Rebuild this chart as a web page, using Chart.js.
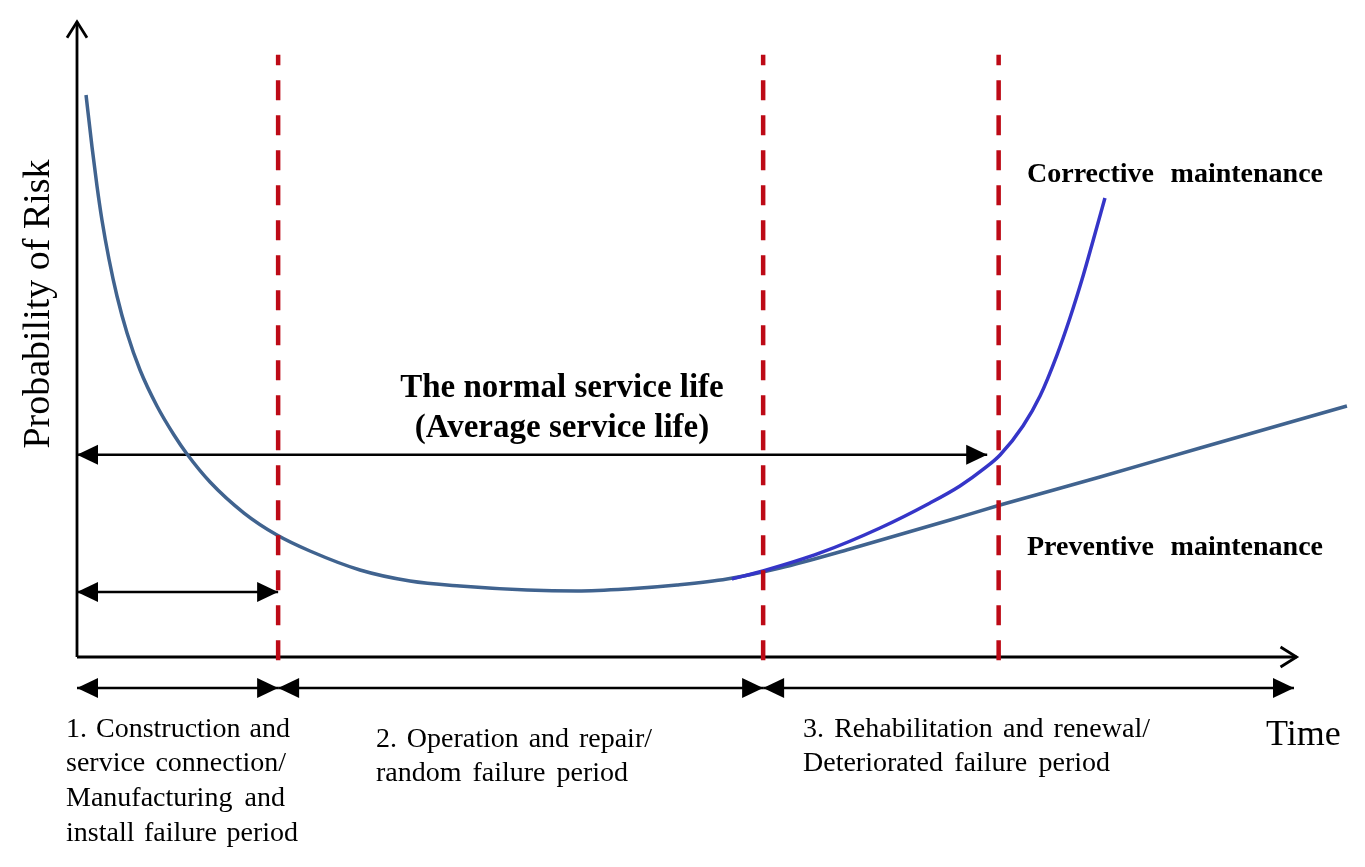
<!DOCTYPE html>
<html>
<head>
<meta charset="utf-8">
<script src="https://cdn.jsdelivr.net/npm/chart.js@4/dist/chart.umd.min.js"></script>
<style>
  html, body { margin: 0; padding: 0; background: #fff; }
  canvas { display: block; }
</style>
</head>
<body>
<canvas id="bathtub" width="1365" height="867"></canvas>
<script>
// time and risk are relative units (0-100)
const bathTime = [0.71, 1.18, 1.57, 1.96, 2.51, 3.14, 3.93, 4.95, 6.28, 7.62, 8.64, 10.45, 13.12, 15.71, 18.3, 22.23, 26.16, 30.09, 35.35, 39.28, 43.21, 47.13, 51.06, 55.22, 60.72, 68.58, 72.51, 80.36, 88.22, 99.76];
const bathRisk = [88.92, 80.7, 74.53, 69.15, 62.97, 57.12, 51.27, 45.41, 39.72, 35.13, 32.12, 27.69, 22.78, 19.3, 16.77, 13.77, 12.03, 11.23, 10.6, 10.44, 10.76, 11.39, 12.34, 14.08, 17.09, 21.68, 24.05, 28.48, 33.07, 39.72];

const corrTime = [51.45, 53.89, 58.37, 63.08, 67.01, 69.36, 71.33, 72.51, 74.31, 75.65, 76.98, 78.0, 79.03, 79.81, 80.75];
const corrRisk = [12.34, 13.61, 16.46, 20.41, 24.37, 27.06, 29.91, 31.96, 36.55, 41.3, 47.78, 53.64, 60.28, 65.82, 72.63];

// period boundaries (red dashed lines)
const phaseBounds = [15.8, 53.9, 72.4];
const phaseTop = 95.3;

// span arrows
const lifeSpan = [0, 71.5];     // normal service life
const lifeLevel = 32.0;
const earlySpan = [0, 15.8];    // early failure period
const earlyLevel = 10.3;
const periodEnds = [0, 15.8, 53.9, 95.6];
const periodLevel = -4.9;

const axisEndX = 95.8;
const axisEndY = 100.5;

const serif = '"Liberation Serif", "Times New Roman", serif';

function toPts(xs, ys) {
  return xs.map((x, i) => ({ x: x, y: ys[i] }));
}

const datasets = [];

phaseBounds.forEach(b => {
  datasets.push({
    data: [{ x: b, y: -0.5 }, { x: b, y: phaseTop }],
    borderColor: '#bd0a16', borderWidth: 4.5, borderDash: [20, 15],
    showLine: true, pointRadius: 0, clip: false
  });
});

datasets.push({
  label: 'Corrective maintenance',
  data: toPts(corrTime, corrRisk),
  borderColor: '#3535c8', borderWidth: 3.5,
  showLine: true, pointRadius: 0, cubicInterpolationMode: 'monotone', clip: false
});

datasets.push({
  label: 'Preventive maintenance',
  data: toPts(bathTime, bathRisk),
  borderColor: '#40638f', borderWidth: 3.5,
  showLine: true, pointRadius: 0, cubicInterpolationMode: 'monotone', clip: false
});

function arrowSet(x0, x1, y) {
  return {
    data: [{ x: x0, y: y }, { x: x1, y: y }],
    borderColor: '#000', borderWidth: 2.5,
    showLine: true, pointRadius: 0, clip: false, heads: 'both'
  };
}

datasets.push(arrowSet(lifeSpan[0], lifeSpan[1], lifeLevel));
datasets.push(arrowSet(earlySpan[0], earlySpan[1], earlyLevel));
for (let i = 0; i < periodEnds.length - 1; i++) {
  datasets.push(arrowSet(periodEnds[i], periodEnds[i + 1], periodLevel));
}

// axes
datasets.push({
  data: [{ x: 0, y: 0 }, { x: axisEndX, y: 0 }],
  borderColor: '#000', borderWidth: 2.8, showLine: true, pointRadius: 0, clip: false, heads: 'open'
});
datasets.push({
  data: [{ x: 0, y: 0 }, { x: 0, y: axisEndY }],
  borderColor: '#000', borderWidth: 2.8, showLine: true, pointRadius: 0, clip: false, heads: 'open'
});

function drawHead(ctx, tip, from, open) {
  const ang = Math.atan2(tip.y - from.y, tip.x - from.x);
  ctx.save();
  ctx.translate(tip.x, tip.y);
  ctx.rotate(ang);
  ctx.beginPath();
  if (open) {
    ctx.moveTo(-16, -10);
    ctx.lineTo(0, 0);
    ctx.lineTo(-16, 10);
    ctx.lineWidth = 2.8;
    ctx.lineJoin = 'miter';
    ctx.stroke();
  } else {
    ctx.moveTo(0, 0);
    ctx.lineTo(-21, -10);
    ctx.lineTo(-21, 10);
    ctx.closePath();
    ctx.fill();
  }
  ctx.restore();
}

const arrowHeads = {
  id: 'arrowHeads',
  afterDatasetsDraw(chart) {
    const ctx = chart.ctx;
    chart.data.datasets.forEach((ds, i) => {
      if (!ds.heads) return;
      const pts = chart.getDatasetMeta(i).data;
      const a = pts[0], b = pts[pts.length - 1];
      ctx.save();
      ctx.fillStyle = ds.borderColor;
      ctx.strokeStyle = ds.borderColor;
      if (ds.heads === 'both') drawHead(ctx, a, b, false);
      drawHead(ctx, b, a, ds.heads === 'open');
      ctx.restore();
    });
  }
};

// spread words so a line fills the given width
function spreadText(ctx, words, x, y, width) {
  if (!width || words.length < 2) {
    ctx.fillText(words.join(' '), x, y);
    return;
  }
  const total = words.reduce((s, w) => s + ctx.measureText(w).width, 0);
  const gap = (width - total) / (words.length - 1);
  let cx = x;
  words.forEach(w => {
    ctx.fillText(w, cx, y);
    cx += ctx.measureText(w).width + gap;
  });
}

const labels = {
  id: 'labels',
  afterDraw(chart) {
    const ctx = chart.ctx;
    ctx.save();
    ctx.fillStyle = '#000';
    ctx.textBaseline = 'alphabetic';

    // axis titles
    ctx.font = '38px ' + serif;
    ctx.save();
    ctx.translate(49, 304);
    ctx.rotate(-Math.PI / 2);
    ctx.textAlign = 'center';
    ctx.fillText('Probability of Risk', 0, 0);
    ctx.restore();
    ctx.font = '36px ' + serif;
    ctx.textAlign = 'left';
    ctx.fillText('Time', 1266, 745);

    // curve labels
    ctx.font = 'bold 28px ' + serif;
    spreadText(ctx, ['Corrective', 'maintenance'], 1027, 182, 296);
    spreadText(ctx, ['Preventive', 'maintenance'], 1027, 555, 296);

    ctx.font = 'bold 33px ' + serif;
    ctx.textAlign = 'center';
    ctx.fillText('The normal service life', 562, 397);
    ctx.fillText('(Average service life)', 562, 437);

    // period captions
    ctx.textAlign = 'left';
    ctx.font = '28px ' + serif;
    spreadText(ctx, ['1.', 'Construction', 'and'], 66, 737, 224);
    spreadText(ctx, ['service', 'connection/'], 66, 771, 220);
    spreadText(ctx, ['Manufacturing', 'and'], 66, 806, 219);
    spreadText(ctx, ['install', 'failure', 'period'], 66, 841, 232);

    spreadText(ctx, ['2.', 'Operation', 'and', 'repair/'], 376, 747, 276);
    spreadText(ctx, ['random', 'failure', 'period'], 376, 781, 252);

    spreadText(ctx, ['3.', 'Rehabilitation', 'and', 'renewal/'], 803, 737, 347);
    spreadText(ctx, ['Deteriorated', 'failure', 'period'], 803, 771, 307);
    ctx.restore();
  }
};

new Chart(document.getElementById('bathtub').getContext('2d'), {
  type: 'scatter',
  data: { datasets: datasets },
  options: {
    responsive: false,
    animation: false,
    layout: { padding: { left: 77, right: 15, top: 25, bottom: 210 } },
    plugins: { legend: { display: false }, tooltip: { enabled: false } },
    scales: {
      x: { type: 'linear', min: 0, max: 100, display: false },
      y: { type: 'linear', min: 0, max: 100, display: false }
    }
  },
  plugins: [arrowHeads, labels]
});
</script>
</body>
</html>
